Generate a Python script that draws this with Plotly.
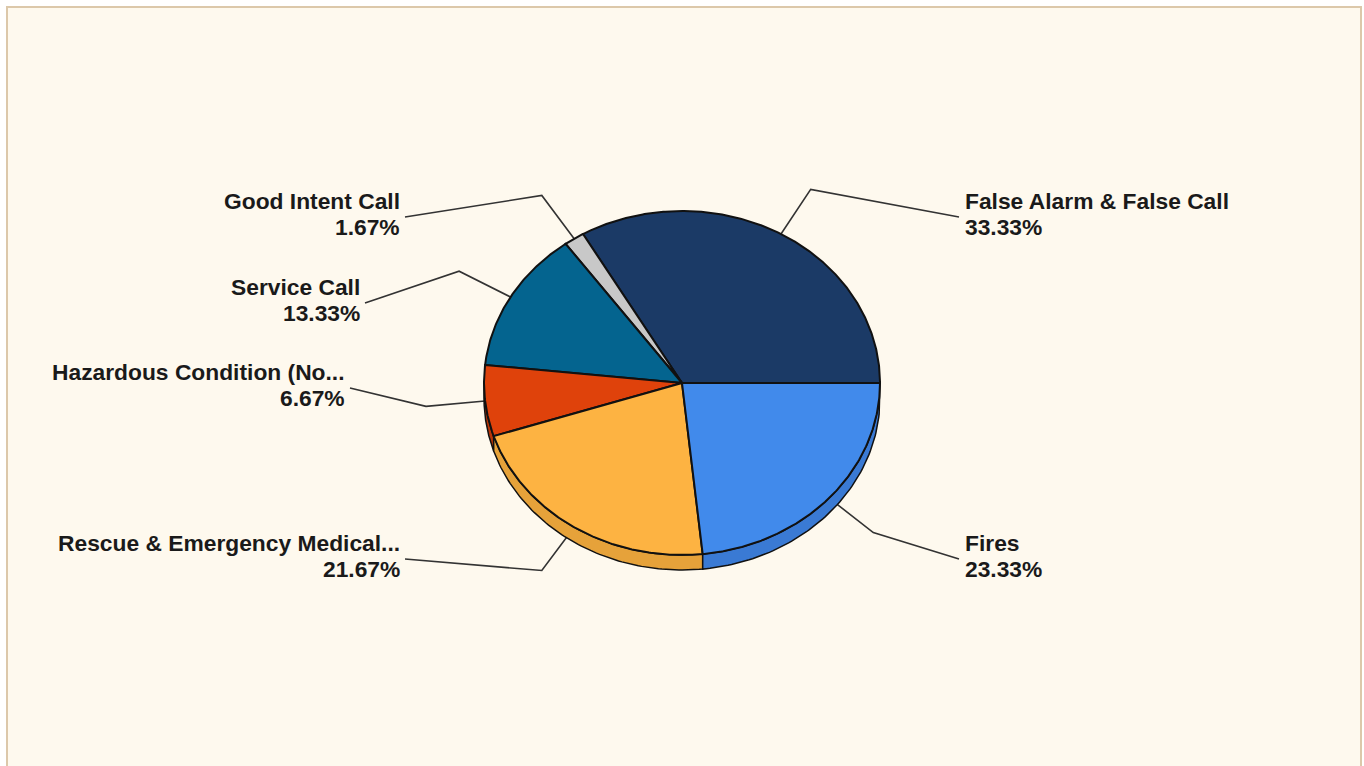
import numpy as np
import plotly.graph_objects as go

# ---- data ----
categories = ["False Alarm & False Call", "Good Intent Call", "Service Call",
              "Hazardous Condition (No...", "Rescue & Emergency Medical...", "Fires"]
counts = [20, 1, 8, 4, 13, 14]

# ---- styles / layout ----
colors = ["#1B3A66", "#C8C8C8", "#04648F", "#DF420B", "#FDB342", "#418AEB"]
rim_colors = ["#16305A", "#A9A9A9", "#035578", "#B93608", "#E6A23A", "#3A7AD4"]
label_side = ["right", "left", "left", "left", "left", "right"]
label_x = [963, 402, 362, 347, 402, 963]
label_y = [214, 214, 300, 385, 556, 556]

CX, CY, RX, RY, DEPTH = 682, 383, 198, 172, 15
ELBOW = 1.3
FONT = "Liberation Sans, Arial, sans-serif"

total = sum(counts)
fracs = [c / total for c in counts]
bounds = np.concatenate([[0], np.cumsum(fracs) * 360.0])


def ell(t, scale=1.0, dy=0.0):
    r = np.radians(t)
    return CX + scale * RX * np.cos(r), CY - scale * RY * np.sin(r) + dy


fig = go.Figure()

# leader lines (under the pie)
for i, cat in enumerate(categories):
    mid = (bounds[i] + bounds[i + 1]) / 2
    x0, y0 = ell(mid)
    x1, y1 = ell(mid, ELBOW)
    if label_side[i] == "right":
        x2 = label_x[i] - 4
    else:
        x2 = label_x[i] + 3
    y2 = label_y[i] + 3
    fig.add_trace(go.Scatter(x=[x0, x1, x2], y=[y0, y1, y2], mode="lines",
                             line=dict(color="#333333", width=1.6),
                             hoverinfo="skip", showlegend=False))

# 3D side walls (front half)
for i in range(len(categories)):
    lo = max(bounds[i], 180.0)
    hi = min(bounds[i + 1], 360.0)
    if hi <= lo:
        continue
    t = np.linspace(lo, hi, 80)
    xt, yt = ell(t)
    xb, yb = ell(t[::-1], dy=DEPTH)
    xs = np.concatenate([xt, xb, xt[:1]])
    ys = np.concatenate([yt, yb, yt[:1]])
    fig.add_trace(go.Scatter(x=xs, y=ys, mode="lines", fill="toself",
                             fillcolor=rim_colors[i],
                             line=dict(color="#111111", width=1.5),
                             hoverinfo="skip", showlegend=False))

# top faces
for i, cat in enumerate(categories):
    n = max(int((bounds[i + 1] - bounds[i]) * 2), 8)
    t = np.linspace(bounds[i], bounds[i + 1], n)
    xa, ya = ell(t)
    xs = np.concatenate([[CX], xa, [CX]])
    ys = np.concatenate([[CY], ya, [CY]])
    fig.add_trace(go.Scatter(x=xs, y=ys, mode="lines", fill="toself",
                             fillcolor=colors[i],
                             line=dict(color="#111111", width=2),
                             name=cat, hoverinfo="name", showlegend=False))

annotations = []
for i, cat in enumerate(categories):
    pct = f"{100 * counts[i] / total:.2f}%"
    anchor = "left" if label_side[i] == "right" else "right"
    for txt, dy in ((cat, -13), (pct, 13)):
        annotations.append(dict(x=label_x[i], y=label_y[i] + dy, xref="x", yref="y",
                                text=f"<b>{txt}</b>", showarrow=False,
                                xanchor=anchor, yanchor="middle",
                                font=dict(family=FONT, size=22.8, color="#1a1a1a")))

fig.update_layout(
    width=1364, height=766,
    margin=dict(l=0, r=0, t=0, b=0),
    paper_bgcolor="#FFFFFF", plot_bgcolor="#FFFFFF",
    xaxis=dict(range=[0, 1364], visible=False, fixedrange=True),
    yaxis=dict(range=[766, 0], visible=False, fixedrange=True),
    shapes=[dict(type="rect", xref="x", yref="y", x0=7, y0=7, x1=1361, y1=772,
                 fillcolor="#FEF9EE", line=dict(color="#DCC8AA", width=2),
                 layer="below")],
    annotations=annotations,
    showlegend=False,
)

fig.write_html("out.html", config={"displayModeBar": False},
               post_script="document.body.style.margin='0';document.body.style.overflow='hidden';")
